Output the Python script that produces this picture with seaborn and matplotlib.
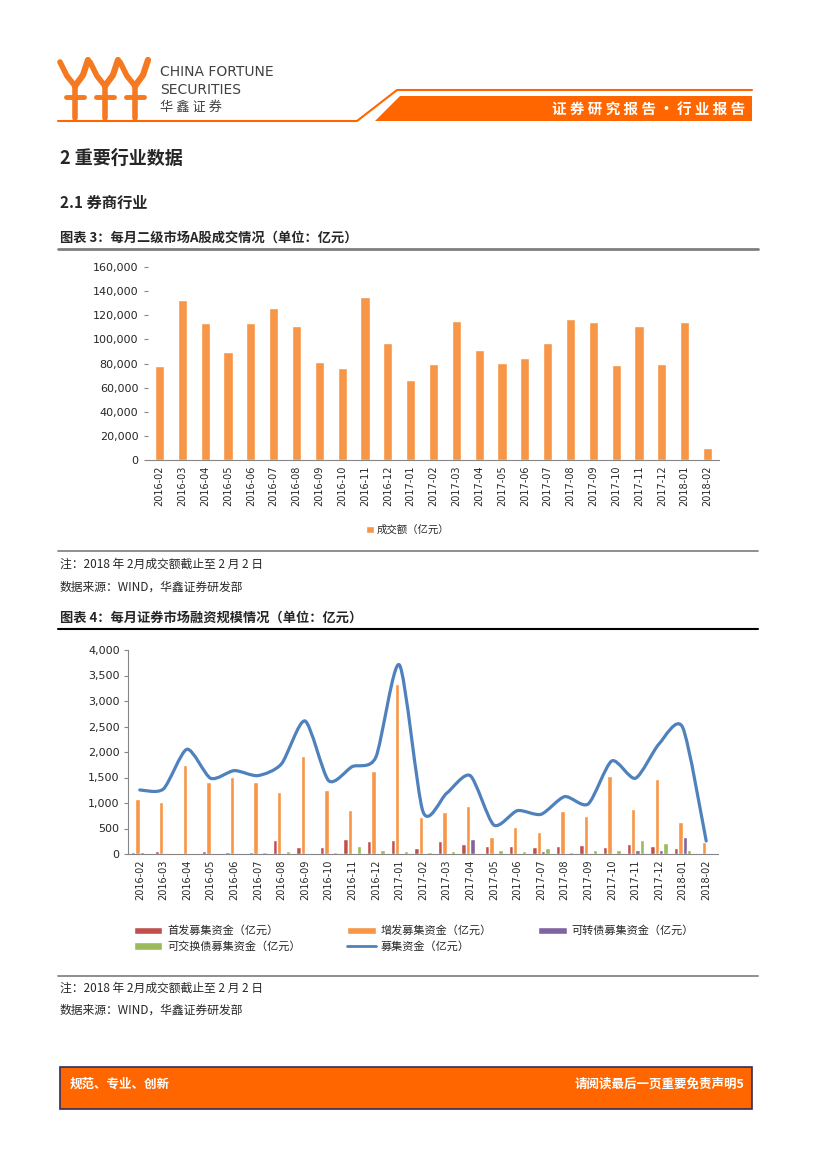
import numpy as np
import pandas as pd
import matplotlib
matplotlib.use('Agg')
import matplotlib.pyplot as plt
import seaborn as sns
from matplotlib.patches import Polygon, Rectangle, Patch, PathPatch
from matplotlib.lines import Line2D
from matplotlib.path import Path
from matplotlib.ticker import FuncFormatter

# data
months = ['2016-02', '2016-03', '2016-04', '2016-05', '2016-06', '2016-07', '2016-08',
          '2016-09', '2016-10', '2016-11', '2016-12', '2017-01', '2017-02', '2017-03',
          '2017-04', '2017-05', '2017-06', '2017-07', '2017-08', '2017-09', '2017-10',
          '2017-11', '2017-12', '2018-01', '2018-02']

# 图表3 成交额（亿元）
turnover = [78000, 132600, 113600, 89500, 113600, 126000, 111000, 81200, 76300, 135100,
            97000, 66300, 79600, 115200, 91200, 80400, 84600, 97000, 116900, 114400,
            78800, 111000, 79600, 114400, 10000]

# 图表4 融资规模（亿元）
ipo = [46, 60, 20, 60, 40, 40, 275, 137, 137, 294, 255, 275, 118, 255, 196, 157, 157,
       137, 157, 177, 137, 196, 157, 118, 0]
seo = [1079, 1020, 1746, 1413, 1511, 1413, 1216, 1923, 1256, 863, 1628, 3335, 730, 824,
       948, 334, 530, 432, 844, 746, 1530, 883, 1472, 634, 242]
cb = [40, 20, 0, 0, 0, 0, 0, 0, 0, 0, 0, 0, 0, 0, 294, 0, 0, 59, 0, 0, 0, 78, 78, 334, 0]
eb = [0, 0, 0, 0, 0, 40, 60, 0, 40, 157, 78, 60, 40, 60, 0, 78, 60, 118, 40, 78, 78,
      275, 216, 78, 0]
total = [1256, 1275, 2054, 1485, 1635, 1537, 1766, 2609, 1439, 1713, 1897, 3708, 830,
         1190, 1537, 569, 850, 778, 1125, 981, 1825, 1485, 2158, 2485, 255]

series_names = ['首发募集资金（亿元）', '增发募集资金（亿元）', '可转债募集资金（亿元）', '可交换债募集资金（亿元）']
series_colors = ['#C0504D', '#F79646', '#8064A2', '#9BBB59']
line_name = '募集资金（亿元）'
line_color = '#4F81BD'

sns.set_style('white')
plt.rcParams['font.family'] = ['DejaVu Sans', 'Noto Sans CJK SC']
CJK = ['Noto Sans CJK SC', 'DejaVu Sans']
ORANGE = '#FF6600'
GREY = '#868686'

W, H = 827, 1169
fig = plt.figure(figsize=(W / 100, H / 100), dpi=100)


def fx(x):
    return x / W


def fy(y):
    return 1 - y / H


def hline(y, x0=58, x1=758, color=GREY, lw=1.3):
    fig.add_artist(Line2D([fx(x0), fx(x1)], [fy(y), fy(y)], color=color, lw=lw))


def figline(xs, ys, **kw):
    fig.add_artist(Line2D([fx(v) for v in xs], [fy(v) for v in ys], **kw))


# ---- header ----
# logo: three orange figures with raised arms
for xc in [75, 105, 135]:
    figline([xc, xc], [118, 84], color='#F47920', lw=4, solid_capstyle='round')
    figline([xc - 9, xc + 9], [97, 97], color='#F47920', lw=3.5)
    figline([xc, xc - 8, xc - 15], [86, 76, 62], color='#F47920', lw=4, solid_capstyle='round')
    figline([xc, xc + 8, xc + 13], [86, 75, 60], color='#F47920', lw=4.5, solid_capstyle='round')
fig.text(fx(160), fy(72), 'CHINA FORTUNE', fontsize=10, color='#404040', va='center')
fig.text(fx(160), fy(90), 'SECURITIES', fontsize=10, color='#404040', va='center')
fig.text(fx(160), fy(107), '华 鑫 证 券', fontsize=9.5, color='#404040', va='center', family=CJK)
figline([58, 357, 397, 752], [121, 121, 90, 90], color=ORANGE, lw=1.5)
fig.add_artist(Polygon([(fx(375), fy(121)), (fx(400), fy(96)), (fx(752), fy(96)), (fx(752), fy(121))],
                       closed=True, facecolor=ORANGE, edgecolor='none', transform=fig.transFigure))
fig.text(fx(745), fy(110), '证 券 研 究 报 告 • 行 业 报 告', fontsize=10.5, fontweight='bold',
         color='white', ha='right', va='center', family=CJK)

# ---- section titles ----
fig.text(fx(60), fy(158), '2 重要行业数据', fontsize=13, fontweight='bold', va='center', family=CJK)
fig.text(fx(60), fy(203), '2.1 券商行业', fontsize=11, fontweight='bold', va='center', family=CJK)
fig.text(fx(60), fy(238), '图表 3：每月二级市场A股成交情况（单位：亿元）', fontsize=9.5, fontweight='bold',
         va='center', family=CJK)
hline(249, color='#7F7F7F', lw=2)

# ---- chart 1 ----
ax1 = fig.add_axes([fx(148), fy(460), (719 - 148) / W, (460 - 267) / H])
sns.barplot(x=months, y=turnover, color='#F79646', saturation=1, width=0.4, ax=ax1)
ax1.set_xlim(-0.5, len(months) - 0.5)
ax1.set_ylim(0, 160000)
ax1.set_yticks(np.arange(0, 160001, 20000))
ax1.yaxis.set_major_formatter(FuncFormatter(lambda v, p: f'{v:,.0f}'))
ax1.set_xticks(np.arange(-0.5, len(months)), minor=True)
ax1.tick_params(axis='x', which='major', rotation=90, labelsize=7, length=0, pad=4)
ax1.tick_params(axis='x', which='minor', length=4, color=GREY, direction='out')
ax1.tick_params(axis='y', labelsize=8, length=3, color=GREY, left=True, pad=4)
for s in ['left', 'top', 'right']:
    ax1.spines[s].set_visible(False)
ax1.spines['bottom'].set_color(GREY)
ax1.set_xlabel('')
ax1.set_ylabel('')

fig.legend([Patch(facecolor='#F79646')], ['成交额（亿元）'], loc='center',
           bbox_to_anchor=(fx(408), fy(530)), frameon=False, handlelength=0.7, handleheight=0.7,
           handletextpad=0.3, prop={'family': CJK, 'size': 7.5})

hline(551)
fig.text(fx(60), fy(564), '注：2018 年 2月成交额截止至 2 月 2 日', fontsize=8.5, style='italic',
         va='center', family=CJK)
fig.text(fx(60), fy(587), '数据来源：WIND，华鑫证券研发部', fontsize=8.5, style='italic',
         va='center', family=CJK)

fig.text(fx(60), fy(618), '图表 4：每月证券市场融资规模情况（单位：亿元）', fontsize=9.5, fontweight='bold',
         va='center', family=CJK)
hline(629, color='black', lw=1.5)

# ---- chart 2 ----
df2 = pd.DataFrame({'month': months * 4,
                    'series': np.repeat(series_names, len(months)),
                    'value': ipo + seo + cb + eb})
ax2 = fig.add_axes([fx(128), fy(854), (718 - 128) / W, (854 - 650) / H])
sns.barplot(data=df2, x='month', y='value', hue='series', hue_order=series_names,
            palette=series_colors, saturation=1, width=0.75, legend=False, ax=ax2)

# smoothed total line (Excel style), drawn as bezier path in data coordinates
xs = np.arange(len(total), dtype=float)
ys = np.array(total, dtype=float)
k = 1 / 8
verts = [(xs[0], ys[0])]
codes = [Path.MOVETO]
for i in range(len(xs) - 1):
    p0 = np.array([xs[max(i - 1, 0)], ys[max(i - 1, 0)]])
    p1 = np.array([xs[i], ys[i]])
    p2 = np.array([xs[i + 1], ys[i + 1]])
    p3 = np.array([xs[min(i + 2, len(xs) - 1)], ys[min(i + 2, len(xs) - 1)]])
    c1 = p1 + (p2 - p0) * k
    c2 = p2 - (p3 - p1) * k
    verts += [tuple(c1), tuple(c2), tuple(p2)]
    codes += [Path.CURVE4] * 3
ax2.add_patch(PathPatch(Path(verts, codes), fill=False, edgecolor=line_color, lw=2.3,
                        capstyle='round', joinstyle='round'))

ax2.set_xlim(-0.5, len(months) - 0.5)
ax2.set_ylim(0, 4000)
ax2.set_yticks(np.arange(0, 4001, 500))
ax2.yaxis.set_major_formatter(FuncFormatter(lambda v, p: f'{v:,.0f}'))
ax2.set_xticks(np.arange(-0.5, len(months)), minor=True)
ax2.tick_params(axis='x', which='major', rotation=90, labelsize=7, length=0, pad=4)
ax2.tick_params(axis='x', which='minor', length=4, color=GREY, direction='out')
ax2.tick_params(axis='y', labelsize=8, length=3, color=GREY, left=True, pad=3)
for s in ['top', 'right']:
    ax2.spines[s].set_visible(False)
ax2.spines['bottom'].set_color(GREY)
ax2.spines['left'].set_color(GREY)
ax2.set_xlabel('')
ax2.set_ylabel('')

bar_handles = [Patch(facecolor=c) for c in series_colors]
line_handle = Line2D([], [], color=line_color, lw=2)
handles = [bar_handles[0], bar_handles[3], bar_handles[1], line_handle, bar_handles[2]]
labels = [series_names[0], series_names[3], series_names[1], line_name, series_names[2]]
fig.legend(handles, labels, ncol=3, loc='upper left', bbox_to_anchor=(fx(128), fy(920)),
           frameon=False, handlelength=2.6, handleheight=0.6, handletextpad=0.4,
           columnspacing=4.2, labelspacing=0.45, borderpad=0, prop={'family': CJK, 'size': 8})

hline(976)
fig.text(fx(60), fy(988), '注：2018 年 2月成交额截止至 2 月 2 日', fontsize=8.5, style='italic',
         va='center', family=CJK)
fig.text(fx(60), fy(1010), '数据来源：WIND，华鑫证券研发部', fontsize=8.5, style='italic',
         va='center', family=CJK)

# ---- footer ----
fig.add_artist(Rectangle((fx(60), fy(1109)), (752 - 60) / W, (1109 - 1067) / H,
                         facecolor=ORANGE, edgecolor='#2E2E5C', lw=1.2, transform=fig.transFigure))
fig.text(fx(70), fy(1084), '规范、专业、创新', fontsize=9, fontweight='bold', color='white',
         va='center', family=CJK)
fig.text(fx(744), fy(1084), '请阅读最后一页重要免责声明5', fontsize=9, fontweight='bold', color='white',
         va='center', ha='right', family=CJK)

fig.savefig('out.png', dpi=100)
